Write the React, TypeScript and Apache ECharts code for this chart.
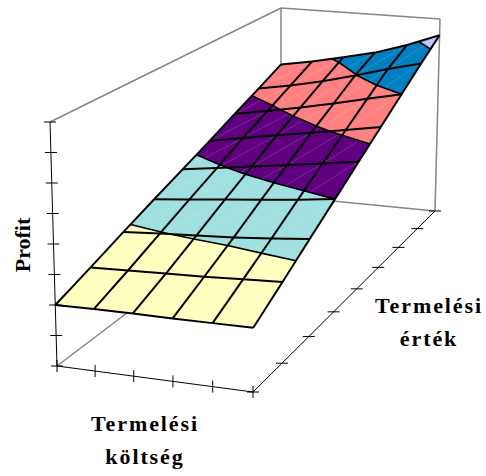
import React, { useEffect, useRef } from "react";
import * as echarts from "echarts";

const costSteps = [0, 1, 2, 3, 4, 5];
const valueSteps = [0, 1, 2, 3, 4, 5, 6, 7, 8];
const profitTicks = [0, 1, 2, 3, 4, 5, 6, 7, 8];
const bandLevels = [3, 4, 5, 6, 7];
const bandColors = ["#FFFFC0", "#A0E0E0", "#600080", "#FF8080", "#0080C0", "#C0C0FF"];

const profit0 = [2.0, 2.02, 2.03, 2.02, 2.03, 2.04];
const profit1 = [2.44, 2.48, 2.52, 2.56, 2.62, 2.68];
const profit2 = [2.9, 2.98, 3.05, 3.12, 3.22, 3.34];
const profit3 = [3.35, 3.47, 3.6, 3.72, 3.85, 4.0];
const profit4 = [3.78, 3.95, 4.13, 4.3, 4.48, 4.67];
const profit5 = [4.22, 4.45, 4.67, 4.88, 5.1, 5.33];
const profit6 = [4.68, 4.9, 5.15, 5.42, 5.72, 6.0];
const profit7 = [5.13, 5.36, 5.64, 5.98, 6.35, 6.68];
const profit8 = [5.6, 5.82, 6.1, 6.4, 6.82, 7.32];
const profit = [profit0, profit1, profit2, profit3, profit4, profit5, profit6, profit7, profit8];

type P = [number, number];

function homography(src: P[], dst: P[]) {
  const m: number[][] = [];
  for (let k = 0; k < 4; k++) {
    const [x, y] = src[k];
    const [u, v] = dst[k];
    m.push([x, y, 1, 0, 0, 0, -u * x, -u * y, u]);
    m.push([0, 0, 0, x, y, 1, -v * x, -v * y, v]);
  }
  for (let c = 0; c < 8; c++) {
    let p = c;
    for (let r = c + 1; r < 8; r++) if (Math.abs(m[r][c]) > Math.abs(m[p][c])) p = r;
    [m[c], m[p]] = [m[p], m[c]];
    for (let r = 0; r < 8; r++) {
      if (r === c) continue;
      const f = m[r][c] / m[c][c];
      for (let q = c; q < 9; q++) m[r][q] -= f * m[c][q];
    }
  }
  const h = m.map((row, r) => row[8] / row[r]);
  return (x: number, y: number): P => {
    const w = h[6] * x + h[7] * y + 1;
    return [(h[0] * x + h[1] * y + h[2]) / w, (h[3] * x + h[4] * y + h[5]) / w];
  };
}

const cornersIJ: P[] = [[0, 0], [5, 0], [5, 8], [0, 8]];
const floorMap = homography(cornersIJ, [[57, 366], [253, 392], [435, 211], [281, 196]]);
const ceilMap = homography(cornersIJ, [[50, 122], [254, 140], [440, 19], [281, 8]]);

function project(i: number, j: number, z: number): P {
  const a = floorMap(i, j);
  const b = ceilMap(i, j);
  const t = z / 8;
  return [a[0] + (b[0] - a[0]) * t, a[1] + (b[1] - a[1]) * t];
}

type V = [number, number, number];

function clip(poly: V[], level: number, keepAbove: boolean): V[] {
  const out: V[] = [];
  const inside = (v: V) => (keepAbove ? v[2] >= level : v[2] <= level);
  for (let k = 0; k < poly.length; k++) {
    const a = poly[k];
    const b = poly[(k + 1) % poly.length];
    if (inside(a)) out.push(a);
    if (inside(a) !== inside(b)) {
      const t = (level - a[2]) / (b[2] - a[2]);
      out.push([a[0] + (b[0] - a[0]) * t, a[1] + (b[1] - a[1]) * t, level]);
    }
  }
  return out;
}

function cellCorners(i: number, j: number): V[] {
  return [
    [i, j, profit[j][i]],
    [i + 1, j, profit[j][i + 1]],
    [i + 1, j + 1, profit[j + 1][i + 1]],
    [i, j + 1, profit[j + 1][i]],
  ];
}

const cells: number[][] = [];
valueSteps.slice(0, -1).forEach((j) => costSteps.slice(0, -1).forEach((i) => cells.push([i, j])));

export default function App() {
  const ref = useRef<HTMLDivElement>(null);
  useEffect(() => {
    const chart = echarts.init(ref.current!, undefined, { renderer: "svg" });
    const px = (api: any, v: V) => api.coord(project(v[0], v[1], v[2]));
    const seg = (a: number[], b: number[], stroke: string, lineWidth: number) => ({
      type: "line",
      shape: { x1: a[0], y1: a[1], x2: b[0], y2: b[1] },
      style: { stroke, lineWidth },
    });

    const wallItem = (_: any, api: any) => {
      const G = "#868686";
      const w = (a: V, b: V) => seg(px(api, a), px(api, b), G, 1.5);
      return {
        type: "group",
        children: [
          w([0, 0, 0], [0, 8, 0]),
          w([0, 8, 0], [5, 8, 0]),
          w([0, 8, 0], [0, 8, 8]),
          w([5, 8, 0], [5, 8, 8]),
          w([0, 8, 8], [5, 8, 8]),
          w([0, 8, 8], [0, 0, 8]),
        ],
      };
    };

    const fillItem = (params: any, api: any) => {
      const [i, j] = cells[params.dataIndex];
      const quad = cellCorners(i, j);
      const children: any[] = [];
      bandColors.forEach((color, b) => {
        let poly = quad;
        if (b > 0) poly = clip(poly, bandLevels[b - 1], true);
        if (poly.length && b < bandLevels.length) poly = clip(poly, bandLevels[b], false);
        if (poly.length < 3) return;
        children.push({
          type: "polygon",
          shape: { points: poly.map((v) => px(api, v)) },
          style: { fill: color, stroke: color, lineWidth: 0.4 },
        });
      });
      children.push(seg(px(api, quad[0]), px(api, quad[2]), "rgba(255,255,255,0.22)", 0.7));
      return { type: "group", children };
    };

    const lineItem = (params: any, api: any) => {
      const [i, j] = cells[params.dataIndex];
      const quad = cellCorners(i, j);
      const children: any[] = [];
      bandLevels.forEach((level) => {
        const hits: number[][] = [];
        quad.forEach((a, k) => {
          const c = quad[(k + 1) % 4];
          if (a[2] < level !== c[2] < level) {
            const t = (level - a[2]) / (c[2] - a[2]);
            hits.push(px(api, [a[0] + (c[0] - a[0]) * t, a[1] + (c[1] - a[1]) * t, level]));
          }
        });
        if (hits.length === 2) children.push(seg(hits[0], hits[1], "#000", 1.6));
      });
      const edge = (a: V, b: V) => seg(px(api, a), px(api, b), "#000", 2);
      children.push(edge(quad[0], quad[1]), edge(quad[0], quad[3]));
      if (i === costSteps.length - 2) children.push(edge(quad[1], quad[2]));
      if (j === valueSteps.length - 2) children.push(edge(quad[3], quad[2]));
      return { type: "group", children };
    };

    const axisItem = (_: any, api: any) => {
      const children: any[] = [];
      const K = "#000";
      children.push(seg(px(api, [0, 0, 0]), px(api, [0, 0, 8]), K, 1));
      children.push(seg(px(api, [0, 0, 0]), px(api, [5, 0, 0]), K, 1));
      children.push(seg(px(api, [5, 0, 0]), px(api, [5, 8, 0]), K, 1));
      profitTicks.forEach((t) => {
        const p = px(api, [0, 0, t]);
        children.push(seg([p[0] - 6, p[1]], [p[0] + 6, p[1]], K, 1));
      });
      costSteps.forEach((t) => {
        const p = px(api, [t, 0, 0]);
        children.push(seg([p[0], p[1] - 6], [p[0], p[1] + 6], K, 1));
      });
      valueSteps.forEach((t) => {
        const p = px(api, [5, t, 0]);
        children.push(seg([p[0] - 6, p[1]], [p[0] + 6, p[1]], K, 1));
      });
      return { type: "group", children };
    };

    const base = {
      type: "custom" as const,
      coordinateSystem: "cartesian2d",
      silent: true,
      clip: false,
    };

    const font = {
      fontFamily: "'Liberation Serif', 'Times New Roman', serif",
      fontWeight: "bold",
      fontSize: 22,
      fill: "#000",
      textAlign: "center",
      lineHeight: 33,
    };

    chart.setOption({
      animation: false,
      backgroundColor: "#fff",
      grid: { left: 0, right: 0, top: 0, bottom: 0 },
      xAxis: { type: "value", min: 0, max: 486, show: false },
      yAxis: { type: "value", min: 0, max: 476, inverse: true, show: false },
      graphic: [
        {
          type: "text",
          x: 22,
          y: 245,
          rotation: Math.PI / 2,
          style: { ...font, text: "Profit", verticalAlign: "middle" },
        },
        {
          type: "text",
          x: 145,
          y: 407,
          style: { ...font, text: "Termelési\nköltség", verticalAlign: "top" },
        },
        {
          type: "text",
          x: 429,
          y: 289,
          style: { ...font, text: "Termelési\nérték", verticalAlign: "top" },
        },
      ],
      series: [
        { ...base, data: [[0, 0]], renderItem: wallItem },
        { ...base, data: cells, renderItem: fillItem },
        { ...base, data: cells, renderItem: lineItem },
        { ...base, data: [[0, 0]], renderItem: axisItem },
      ],
    });
    ref.current!.querySelectorAll("text").forEach((t) => {
      if (t.textContent === "Profit") (t as any).style.letterSpacing = "0px";
    });
    return () => chart.dispose();
  }, []);
  return (
    <div
      ref={ref}
      style={{ position: "fixed", left: 0, top: 0, width: 486, height: 476, letterSpacing: "1.9px" }}
    />
  );
}
